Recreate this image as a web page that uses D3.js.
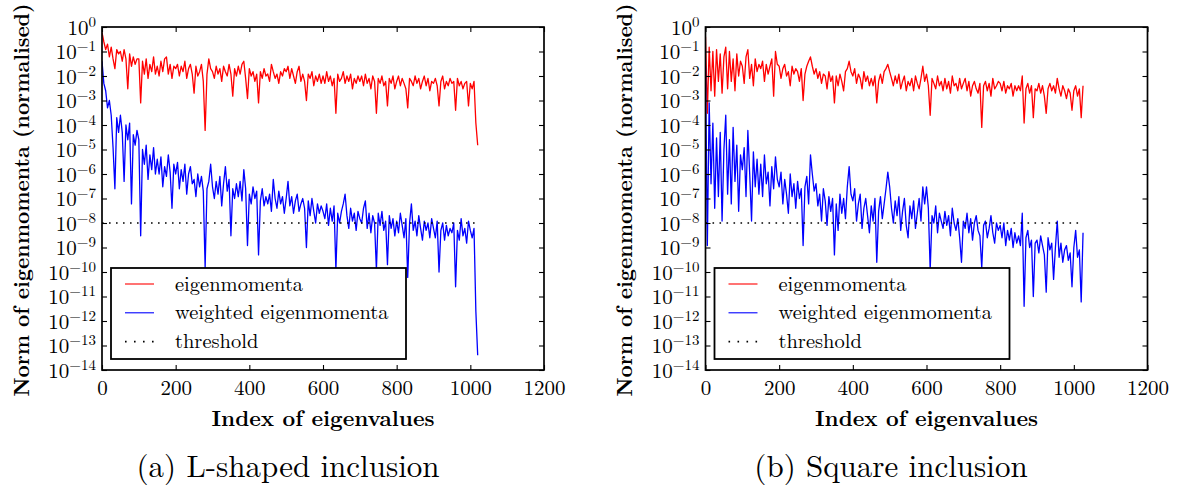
<!DOCTYPE html>
<html>
<head>
<meta charset="utf-8">
<script src="https://cdn.jsdelivr.net/npm/d3@7"></script>
<style>
  body { margin: 0; background: #fff; }
</style>
</head>
<body>
<svg id="chart" width="1181" height="490"></svg>
<script>
// sampled every 5th eigenvalue index
const indexStep = 5;

const lShapedEigen = [
  6e-1, 2.5e-1, 1.2e-1, 2e-1, 6e-2, 1.5e-1, 5e-2, 2e-2, 1.2e-1, 8e-2,
  1e-1, 4e-2, 1.2e-1, 5e-2, 3e-3, 8e-2, 2.5e-2, 6e-2, 3e-2, 5e-2,
  5e-2, 8e-4, 4e-2, 1.2e-2, 5e-2, 8e-3, 3e-2, 1.5e-2, 6e-2, 1.2e-2,
  2.5e-2, 1e-2, 4e-2, 1.5e-2, 5e-2, 6e-2, 1.2e-2, 3e-2, 8e-3, 2.5e-2,
  2e-2, 3e-2, 1e-2, 2.5e-2, 1.5e-2, 4e-2, 8e-3, 2e-2, 3e-2, 1.2e-2,
  2e-3, 2.5e-2, 1e-2, 1.5e-2, 3e-2, 6e-3, 6e-5, 1.2e-2, 5e-2, 2e-2,
  1.5e-2, 8e-3, 2.5e-2, 1.2e-2, 2e-2, 6e-3, 2.5e-2, 1.5e-2, 1e-2, 3e-2,
  1.2e-2, 1.5e-3, 2e-2, 1e-2, 2.5e-2, 1.2e-2, 3e-2, 4e-2, 8e-3, 1.2e-3,
  2e-2, 1e-2, 1.5e-2, 6e-3, 1.2e-2, 8e-4, 1.5e-2, 8e-3, 2e-2, 1e-2,
  1.2e-2, 6e-3, 3e-2, 1.5e-2, 8e-3, 1.2e-2, 5e-3, 1.5e-2, 1e-2, 2e-2,
  1.5e-2, 2.5e-2, 8e-3, 2e-2, 1e-2, 5e-3, 1.5e-2, 2.5e-2, 6e-3, 1.2e-2,
  6e-3, 1e-3, 1.2e-2, 8e-3, 1.5e-2, 4e-3, 1e-2, 6e-3, 1.2e-2, 5e-3,
  1e-2, 5e-3, 1.5e-2, 6e-3, 1e-2, 4e-3, 8e-3, 3e-4, 1.2e-2, 6e-3,
  8e-3, 1.5e-2, 5e-3, 1e-2, 6e-3, 1.2e-2, 3e-3, 8e-3, 5e-3, 1e-2,
  6e-3, 1e-2, 4e-3, 1.2e-2, 5e-3, 8e-3, 3e-3, 1e-2, 6e-3, 3e-4,
  8e-3, 5e-3, 1e-2, 4e-3, 6e-3, 6e-4, 8e-3, 5e-3, 1e-2, 3e-3,
  6e-3, 1e-2, 4e-3, 8e-3, 5e-3, 3e-3, 5e-4, 8e-3, 6e-3, 4e-3,
  1e-2, 5e-3, 8e-3, 3e-3, 6e-3, 1e-2, 4e-3, 8e-3, 2.5e-3, 6e-3,
  5e-3, 8e-3, 4e-3, 6e-4, 6e-3, 1e-2, 3e-3, 6e-3, 4e-3, 8e-3,
  5e-3, 6e-3, 4e-4, 8e-3, 4e-3, 6e-3, 3e-3, 5e-3, 6e-3, 6e-4,
  5e-3, 3e-3, 6e-3, 1.2e-4, 1.5e-5
];

const lShapedWeighted = [
  4e-2, 5e-3, 2.5e-3, 5e-4, 1e-3, 2.5e-4, 1.2e-5, 2.5e-7, 2e-4, 5e-5,
  2.5e-4, 5e-5, 5e-7, 1e-4, 2.5e-5, 1.2e-4, 6e-8, 4e-5, 1.5e-5, 6e-5,
  2.5e-5, 3e-9, 1e-5, 2.5e-6, 1.5e-5, 6e-7, 6e-6, 1.5e-6, 1.2e-5, 1e-6,
  4e-6, 1e-6, 5e-6, 3e-7, 2e-6, 8e-7, 6e-6, 1.2e-6, 4e-8, 2.5e-6,
  1e-6, 3e-6, 2.5e-7, 1.5e-6, 5e-7, 2.5e-6, 1.5e-7, 1e-6, 2e-6, 4e-7,
  6e-7, 1.2e-7, 1e-6, 3e-7, 8e-7, 2e-7, 1.5e-10, 2.5e-7, 5e-7, 2.5e-6,
  3e-7, 1e-7, 5e-7, 1.5e-7, 8e-7, 5e-8, 4e-7, 2e-6, 2e-7, 6e-7,
  3e-9, 2.5e-7, 1e-7, 4e-7, 1.2e-7, 5e-7, 8e-8, 1.5e-6, 2.5e-7, 1.2e-9,
  1.5e-7, 6e-8, 3e-7, 1e-7, 2e-7, 5e-10, 8e-8, 2.5e-7, 5e-8, 1.2e-7,
  6e-8, 1.5e-7, 3e-8, 6e-7, 1e-7, 4e-8, 2e-7, 6e-8, 1.2e-7, 2.5e-8,
  1e-7, 5e-7, 5e-8, 1.2e-7, 2.5e-8, 8e-8, 1.5e-7, 3e-8, 6e-8, 1e-7,
  4e-8, 1e-9, 8e-8, 2e-8, 1e-7, 3e-8, 1e-8, 6e-8, 2.5e-8, 5e-8,
  3e-8, 1.5e-8, 6e-8, 8e-9, 4e-8, 1.2e-8, 5e-8, 1.2e-10, 2.5e-8, 1e-8,
  3e-8, 6e-8, 1.5e-7, 2e-8, 6e-9, 4e-8, 1.2e-8, 2.5e-8, 5e-9, 3e-8,
  1.5e-8, 1e-8, 4e-8, 8e-8, 6e-9, 2.5e-8, 4e-9, 2e-8, 1e-8, 1.2e-10,
  2.5e-8, 8e-9, 3e-8, 5e-9, 1.2e-8, 2e-10, 2e-8, 6e-9, 1.5e-8, 3e-9,
  1.2e-8, 4e-9, 2.5e-8, 8e-9, 2.5e-9, 1.5e-8, 6e-11, 1e-8, 6e-8, 5e-9,
  1.2e-8, 3e-9, 2e-8, 6e-9, 2e-9, 1.2e-8, 5e-9, 1e-8, 2.5e-9, 1.5e-8,
  6e-9, 2.5e-9, 1.2e-8, 1e-10, 5e-9, 1e-8, 2e-9, 8e-9, 3e-9, 6e-9,
  4e-9, 1e-8, 2.5e-11, 5e-9, 2e-9, 1.5e-8, 3e-9, 6e-9, 1.5e-9, 1.2e-8,
  5e-9, 2.5e-9, 6e-9, 2.5e-12, 4e-14
];

const squareEigen = [
  4e-1, 3e-4, 1.5e-1, 2.5e-3, 1e-1, 1.5e-3, 1.2e-1, 6e-3, 8e-2, 2e-3,
  6e-2, 1.5e-1, 3e-3, 1e-1, 6e-3, 5e-2, 2.5e-3, 8e-2, 1e-2, 4e-2,
  2.5e-2, 5e-3, 6e-2, 1.2e-1, 8e-3, 3e-2, 4e-3, 5e-2, 1.5e-2, 3e-2,
  2e-2, 4e-2, 6e-3, 3e-2, 1.2e-2, 2.5e-2, 5e-2, 1.5e-3, 1e-1, 3e-2,
  2.5e-2, 8e-3, 2e-2, 3e-2, 1e-2, 1.5e-2, 4e-3, 2.5e-2, 1.2e-2, 2e-2,
  1.5e-2, 6e-3, 2e-2, 1e-3, 1.2e-2, 2.5e-2, 4e-2, 6e-2, 2.5e-2, 1.2e-2,
  2e-2, 8e-3, 1.5e-2, 5e-3, 1.2e-2, 1e-2, 3e-3, 1.5e-2, 6e-3, 1e-2,
  8e-4, 1e-2, 4e-3, 1.2e-2, 6e-3, 2.5e-3, 1.5e-2, 2e-2, 4e-2, 1.5e-2,
  1e-2, 2e-2, 5e-3, 1.2e-2, 8e-3, 3e-3, 1.5e-2, 6e-3, 1e-2, 4e-3,
  8e-3, 4e-3, 1e-2, 8e-4, 6e-3, 1.2e-2, 5e-3, 1.5e-2, 2e-2, 3e-2,
  1.5e-2, 8e-3, 4e-3, 1e-2, 5e-3, 1.2e-2, 3e-3, 6e-3, 1e-2, 2.5e-3,
  6e-3, 4e-3, 8e-3, 2.5e-3, 1e-2, 5e-3, 3e-3, 8e-3, 2.5e-2, 6e-3,
  1.2e-2, 4e-3, 2.5e-4, 8e-3, 5e-3, 3e-3, 1e-2, 4e-3, 6e-3, 2.5e-3,
  8e-3, 3e-3, 6e-3, 2e-3, 1e-2, 4e-3, 5e-3, 2.5e-3, 8e-3, 3e-3,
  5e-3, 8e-3, 2.5e-3, 6e-3, 1.5e-3, 4e-3, 6e-3, 3e-3, 2e-3, 5e-3,
  8e-5, 4e-3, 6e-3, 2.5e-3, 5e-3, 1.5e-3, 8e-3, 3e-3, 4e-3, 6e-3,
  5e-3, 2.5e-3, 6e-3, 2e-3, 4e-3, 3e-3, 5e-3, 1.5e-3, 4e-3, 2.5e-3,
  4e-3, 2.5e-3, 1e-2, 1.2e-4, 3e-3, 5e-3, 2e-3, 4e-3, 2e-4, 3e-3,
  2.5e-3, 5e-3, 2e-3, 4e-3, 1.5e-3, 3e-4, 3e-3, 5e-3, 2.5e-3, 4e-3,
  2e-3, 8e-3, 3e-3, 1.5e-3, 4e-3, 2.5e-3, 1.2e-3, 3e-3, 2e-3, 4e-4,
  2.5e-3, 4e-3, 1.5e-3, 3e-3, 2e-4, 4e-3
];

const squareWeighted = [
  2.5e-2, 1.2e-9, 8e-4, 4e-7, 1.2e-4, 4e-8, 3e-5, 1.2e-7, 5e-5, 1.2e-8,
  1e-5, 2.5e-4, 1.5e-7, 2.5e-5, 6e-8, 8e-5, 5e-7, 1.5e-5, 3e-8, 6e-6,
  1.5e-6, 1.2e-5, 1.2e-7, 6e-5, 1e-6, 1.2e-8, 8e-6, 3e-7, 4e-6, 1.5e-7,
  2.5e-6, 1.2e-7, 6e-6, 4e-7, 1.2e-6, 5e-8, 2e-6, 2.5e-7, 5e-6, 6e-7,
  3e-7, 1.2e-6, 6e-8, 6e-7, 1.5e-7, 2.5e-8, 1e-6, 1.2e-7, 4e-7, 4e-8,
  5e-7, 1e-7, 2.5e-7, 1.2e-9, 3e-7, 8e-7, 6e-8, 6e-6, 1e-6, 2e-7,
  4e-7, 5e-8, 1.5e-7, 1.2e-8, 2.5e-7, 8e-8, 8e-9, 1.2e-7, 3e-8, 1e-7,
  5e-10, 6e-8, 5e-9, 1.5e-7, 2.5e-8, 1e-7, 1.5e-8, 3e-7, 2e-6, 1.5e-7,
  8e-8, 2.5e-7, 1.2e-8, 6e-8, 1.5e-7, 6e-9, 4e-8, 1e-7, 2e-8, 4e-9,
  5e-8, 1.2e-8, 1e-7, 2.5e-10, 3e-8, 1.2e-7, 1.5e-8, 6e-8, 2.5e-7, 1.2e-6,
  3e-7, 4e-8, 1e-8, 8e-8, 2e-8, 1.2e-7, 5e-9, 3e-8, 1e-7, 8e-9,
  2.5e-9, 5e-8, 1.5e-8, 8e-8, 6e-9, 2.5e-8, 1e-7, 1.2e-8, 3e-7, 6e-8,
  3e-7, 4e-8, 1.2e-10, 2e-8, 1e-8, 5e-8, 4e-9, 2.5e-8, 1.2e-8, 6e-9,
  3e-8, 8e-9, 2e-8, 3e-9, 4e-8, 1e-8, 5e-9, 1.5e-8, 2.5e-9, 2.5e-10,
  1.2e-8, 6e-9, 2.5e-8, 4e-9, 1.5e-8, 2e-9, 1e-8, 2e-8, 5e-9, 3e-9,
  1.5e-10, 8e-9, 1.2e-8, 2.5e-9, 6e-9, 2e-8, 4e-9, 1.5e-9, 1e-8, 5e-9,
  8e-9, 2.5e-9, 1e-8, 1.2e-9, 5e-9, 2e-9, 6e-9, 1e-9, 4e-9, 1.5e-9,
  3e-9, 1.2e-9, 2.5e-8, 4e-12, 2.5e-9, 5e-9, 1e-9, 2e-9, 1e-11, 1.5e-9,
  2e-9, 6e-10, 3e-9, 1.2e-9, 5e-10, 1.5e-11, 2.5e-9, 8e-10, 1.5e-9, 5e-11,
  1e-9, 1.2e-8, 4e-10, 1.5e-9, 2.5e-10, 8e-10, 1.2e-9, 3e-10, 6e-10, 2.5e-11,
  1e-9, 5e-9, 4e-10, 8e-10, 6e-12, 4e-9
];

const thresholdValue = 1e-8;
const thresholdEnd = 1016;

const xTickValues = [0, 200, 400, 600, 800, 1000, 1200];
const yTickExponents = [0, -1, -2, -3, -4, -5, -6, -7, -8, -9, -10, -11, -12, -13, -14];
const legendLabels = ["eigenmomenta", "weighted eigenmomenta", "threshold"];
const seriesColors = ["#ff0000", "#0000ff", "#000000"];

const fontStack = '"Latin Modern Roman", "Liberation Serif", serif';
const svg = d3.select("#chart");

class EigenPanel {
  constructor(config) {
    this.config = config;
    this.margin = { top: 27, left: config.left };
    this.width = 442;
    this.height = 343;
    this.initVis();
  }

  initVis() {
    let vis = this;

    vis.g = svg
      .append("g")
      .attr("transform", `translate(${vis.margin.left},${vis.margin.top})`);

    vis.xScale = d3.scaleLinear().domain([0, 1200]).range([0, vis.width]);
    vis.yScale = d3.scaleLog().domain([1e-14, 1]).range([vis.height, 0]);

    vis.g
      .append("clipPath")
      .attr("id", `clip-${vis.config.id}`)
      .append("rect")
      .attr("width", vis.width)
      .attr("height", vis.height);

    vis.renderVis();
  }

  renderVis() {
    let vis = this;
    const yTicks = yTickExponents.map((e) => Math.pow(10, e));

    const line = d3
      .line()
      .x((d, i) => vis.xScale(i * indexStep))
      .y((d) => vis.yScale(d));

    const plot = vis.g.append("g").attr("clip-path", `url(#clip-${vis.config.id})`);

    plot
      .append("path")
      .datum(vis.config.eigen)
      .attr("fill", "none")
      .attr("stroke", seriesColors[0])
      .attr("stroke-width", 1.3)
      .attr("stroke-linejoin", "round")
      .attr("d", line);

    plot
      .append("path")
      .datum(vis.config.weighted)
      .attr("fill", "none")
      .attr("stroke", seriesColors[1])
      .attr("stroke-width", 1.3)
      .attr("stroke-linejoin", "round")
      .attr("d", line);

    plot
      .append("line")
      .attr("x1", vis.xScale(0))
      .attr("x2", vis.xScale(thresholdEnd))
      .attr("y1", vis.yScale(thresholdValue))
      .attr("y2", vis.yScale(thresholdValue))
      .attr("stroke", seriesColors[2])
      .attr("stroke-width", 1.6)
      .attr("stroke-dasharray", "1.6,5.4");

    // axes: inward ticks on all four sides
    const xBottom = vis.g
      .append("g")
      .attr("transform", `translate(0,${vis.height})`)
      .call(d3.axisBottom(vis.xScale).tickValues(xTickValues).tickSizeInner(-5).tickSizeOuter(0).tickPadding(10));
    vis.g
      .append("g")
      .call(d3.axisTop(vis.xScale).tickValues(xTickValues).tickSizeInner(-5).tickSizeOuter(0).tickFormat(""));
    const yLeft = vis.g
      .append("g")
      .call(d3.axisLeft(vis.yScale).tickValues(yTicks).tickSizeInner(-5).tickSizeOuter(0).tickPadding(6));
    vis.g
      .append("g")
      .attr("transform", `translate(${vis.width},0)`)
      .call(d3.axisRight(vis.yScale).tickValues(yTicks).tickSizeInner(-5).tickSizeOuter(0).tickFormat(""));

    vis.g.selectAll(".domain").remove();
    vis.g.selectAll(".tick line").attr("stroke", "#000").attr("stroke-width", 1.1);

    xBottom
      .selectAll(".tick text")
      .attr("font-size", 21)
      .text((d) => d);

    yLeft
      .selectAll(".tick text")
      .attr("font-size", 21)
      .attr("dy", null)
      .attr("y", 7)
      .each(function (d) {
        const e = Math.round(Math.log10(d));
        const t = d3.select(this).text(null);
        t.append("tspan").text("10");
        t.append("tspan")
          .attr("dy", -8)
          .attr("font-size", 15)
          .text(e === 0 ? "0" : "\u2212" + -e);
      });

    // frame
    vis.g
      .append("rect")
      .attr("width", vis.width)
      .attr("height", vis.height)
      .attr("fill", "none")
      .attr("stroke", "#000")
      .attr("stroke-width", 1.7);

    // axis titles
    vis.g
      .append("text")
      .attr("x", vis.width / 2)
      .attr("y", vis.height + 56)
      .attr("text-anchor", "middle")
      .attr("font-size", 22)
      .attr("font-weight", "bold")
      .text("Index of eigenvalues");

    vis.g
      .append("text")
      .attr("transform", `translate(${-vis.margin.left + 28.5 + vis.config.titleShift},${vis.height / 2 + 1.5}) rotate(-90)`)
      .attr("text-anchor", "middle")
      .attr("font-size", 21.2)
      .attr("font-weight", "bold")
      .text("Norm of eigenmomenta (normalised)");

    // legend
    const legend = vis.g.append("g").attr("transform", `translate(9,241)`);
    legend
      .append("rect")
      .attr("width", 295)
      .attr("height", 91)
      .attr("fill", "#fff")
      .attr("stroke", "#000")
      .attr("stroke-width", 1.8);

    const rows = legend
      .selectAll("g.row")
      .data(legendLabels)
      .join("g")
      .attr("class", "row")
      .attr("transform", (d, i) => `translate(0,${16 + i * 28.8})`);

    rows
      .append("line")
      .attr("x1", 14)
      .attr("x2", 43)
      .attr("stroke", (d, i) => seriesColors[i])
      .attr("stroke-width", (d, i) => (i === 2 ? 1.6 : 1.1))
      .attr("stroke-dasharray", (d, i) => (i === 2 ? "1.6,7.4" : null));

    rows
      .append("text")
      .attr("x", 64)
      .attr("y", 6.5)
      .attr("font-size", 20.5)
      .text((d) => d);

    // caption
    svg
      .append("text")
      .attr("x", vis.config.captionX)
      .attr("y", 477)
      .attr("text-anchor", "middle")
      .attr("font-size", 31)
      .text(vis.config.caption);
  }
}

new EigenPanel({
  id: "a",
  left: 102,
  titleShift: 0,
  eigen: lShapedEigen,
  weighted: lShapedWeighted,
  caption: "(a) L-shaped inclusion",
  captionX: 288
});

new EigenPanel({
  id: "b",
  left: 705.5,
  titleShift: 603.5,
  eigen: squareEigen,
  weighted: squareWeighted,
  caption: "(b) Square inclusion",
  captionX: 891
});

// all text in the LaTeX-like face
svg.selectAll("text").style("font-family", fontStack).style("fill", "#000");
</script>
</body>
</html>
